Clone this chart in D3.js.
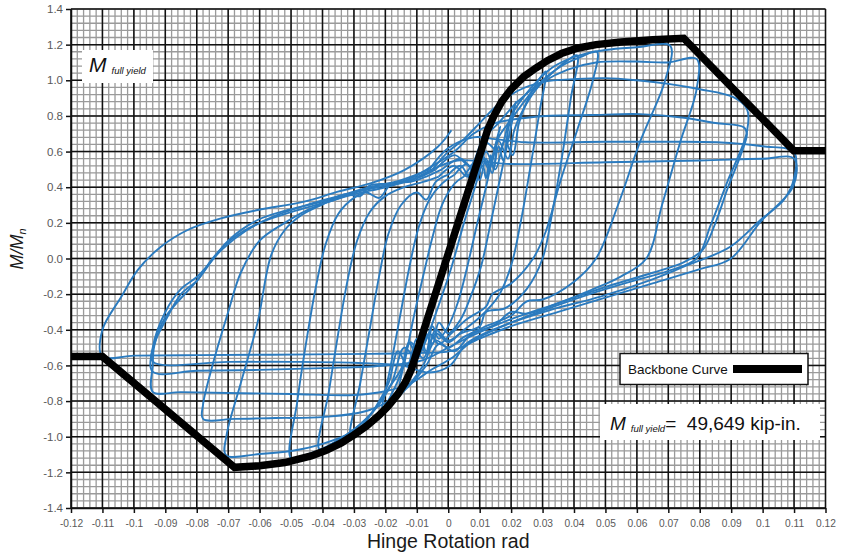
<!DOCTYPE html>
<html><head><meta charset="utf-8">
<script src="https://cdn.jsdelivr.net/npm/d3@7"></script>
<style>body{margin:0;background:#fff}svg{display:block}</style>
</head><body>
<svg id="chart" width="841" height="557"></svg>
<script>
// ---------- data ----------
const xTickLabels = ["-0.12","-0.11","-0.1","-0.09","-0.08","-0.07","-0.06","-0.05","-0.04","-0.03","-0.02","-0.01","0","0.01","0.02","0.03","0.04","0.05","0.06","0.07","0.08","0.09","0.1","0.11","0.12"];
const yTickLabels = ["1.4","1.2","1.0","0.8","0.6","0.4","0.2","0.0","-0.2","-0.4","-0.6","-0.8","-1.0","-1.2","-1.4"];
const xTitle = "Hinge Rotation rad";
const legendLabel = "Backbone Curve";
const fullYieldValue = "49,649 kip-in.";

// backbone curve [rotation, M/Mn]
const backbone = [[-0.12,-0.55],[-0.11,-0.55],[-0.068,-1.172],[-0.06,-1.163],[-0.052,-1.145],[-0.0436,-1.108],[-0.039,-1.078],[-0.034,-1.035],[-0.03,-0.99],[-0.026,-0.94],[-0.022,-0.88],[-0.0192,-0.83],[-0.016,-0.76],[-0.0135,-0.69],[-0.0118,-0.625],[0.0106,0.614],[0.0125,0.72],[0.0145,0.8],[0.017,0.88],[0.02,0.95],[0.024,1.02],[0.028,1.07],[0.0315,1.11],[0.036,1.15],[0.041,1.18],[0.047,1.2],[0.055,1.215],[0.065,1.228],[0.0749,1.236],[0.1099,0.605],[0.12,0.605]];

// hysteresis cycles [rotation, M/Mn]
const cycle1 = [[0,0],[0.003,0.17],[0.006,0.33],[0.008,0.42],[0.0105,0.53],[0.009,0.45],[0.011,0.55],[0.0085,0.4],[0.005,0.2],[0.001,-0.05],[-0.003,-0.26],[-0.006,-0.41],[-0.0085,-0.52],[-0.007,-0.44],[-0.0095,-0.56],[-0.0065,-0.38],[-0.003,-0.15],[0.0,0.05],[0.003,0.22]];
const cycle2 = [[0.003,0.22],[0.006,0.38],[0.009,0.47],[0.011,0.52],[0.012,0.45],[0.0135,0.58],[0.0145,0.5],[0.0155,0.66],[0.0165,0.74],[0.0145,0.6],[0.012,0.4],[0.009,0.18],[0.006,-0.05],[0.003,-0.25],[0.0,-0.38],[-0.003,-0.45],[-0.005,-0.38],[-0.007,-0.52],[-0.009,-0.44],[-0.011,-0.58],[-0.013,-0.65],[-0.0155,-0.72],[-0.0135,-0.55],[-0.011,-0.33],[-0.008,-0.1],[-0.005,0.12],[-0.002,0.3],[0.002,0.42],[0.005,0.46]];
const cycle3 = [[0.005,0.46],[0.008,0.52],[0.01,0.44],[0.012,0.56],[0.014,0.48],[0.016,0.63],[0.0175,0.55],[0.019,0.72],[0.0205,0.82],[0.0215,0.88],[0.0195,0.7],[0.0165,0.45],[0.0135,0.2],[0.0105,-0.04],[0.007,-0.22],[0.004,-0.34],[0.0,-0.42],[-0.003,-0.36],[-0.005,-0.48],[-0.008,-0.4],[-0.01,-0.55],[-0.0125,-0.47],[-0.015,-0.64],[-0.018,-0.76],[-0.021,-0.85],[-0.0185,-0.62],[-0.0155,-0.34],[-0.0125,-0.06],[-0.0095,0.17],[-0.006,0.33],[-0.002,0.42],[0.002,0.47]];
const cycle4 = [[0.002,0.47],[0.006,0.53],[0.009,0.45],[0.012,0.6],[0.015,0.5],[0.018,0.66],[0.0205,0.58],[0.0225,0.76],[0.025,0.88],[0.028,0.98],[0.031,1.05],[0.029,0.82],[0.026,0.5],[0.023,0.2],[0.02,-0.04],[0.016,-0.21],[0.01,-0.33],[0.005,-0.4],[0.0,-0.46],[-0.004,-0.4],[-0.007,-0.53],[-0.01,-0.45],[-0.013,-0.6],[-0.016,-0.52],[-0.019,-0.7],[-0.023,-0.83],[-0.027,-0.93],[-0.031,-0.99],[-0.028,-0.7],[-0.025,-0.4],[-0.022,-0.1],[-0.019,0.14],[-0.015,0.3],[-0.01,0.37],[-0.007,0.33],[-0.004,0.43],[0.0,0.47]];
const cycle5 = [[0.0,0.47],[0.004,0.52],[0.007,0.45],[0.01,0.6],[0.013,0.5],[0.016,0.66],[0.019,0.56],[0.021,0.72],[0.024,0.84],[0.028,0.95],[0.033,1.04],[0.037,1.1],[0.041,1.14],[0.039,0.9],[0.036,0.55],[0.033,0.25],[0.03,0.0],[0.025,-0.17],[0.018,-0.28],[0.012,-0.3],[0.01,-0.38],[0.004,-0.42],[0.0,-0.47],[-0.004,-0.42],[-0.008,-0.56],[-0.012,-0.47],[-0.015,-0.62],[-0.019,-0.73],[-0.024,-0.86],[-0.03,-0.96],[-0.036,-1.03],[-0.041,-1.07],[-0.038,-0.75],[-0.035,-0.42],[-0.032,-0.12],[-0.029,0.1],[-0.025,0.26],[-0.02,0.35],[-0.014,0.4],[-0.008,0.43],[-0.003,0.46]];
const cycle6 = [[-0.003,0.46],[0.002,0.52],[0.006,0.46],[0.01,0.6],[0.013,0.52],[0.016,0.68],[0.02,0.78],[0.025,0.9],[0.03,1.0],[0.036,1.08],[0.042,1.13],[0.0473,1.16],[0.046,1.0],[0.041,0.72],[0.0356,0.43],[0.031,0.15],[0.027,0.0],[0.02,-0.14],[0.014,-0.2],[0.012,-0.27],[0.006,-0.34],[0.001,-0.42],[-0.003,-0.48],[-0.006,-0.42],[-0.01,-0.56],[-0.014,-0.5],[-0.018,-0.7],[-0.023,-0.84],[-0.03,-0.96],[-0.038,-1.05],[-0.045,-1.1],[-0.05,-1.12],[-0.048,-0.8],[-0.045,-0.45],[-0.042,-0.15],[-0.039,0.08],[-0.035,0.25],[-0.03,0.34],[-0.026,0.37],[-0.022,0.34],[-0.018,0.42],[-0.012,0.43],[-0.007,0.46],[-0.002,0.5]];
const cycle7 = [[-0.002,0.5],[0.004,0.56],[0.008,0.5],[0.012,0.65],[0.016,0.6],[0.02,0.8],[0.026,0.95],[0.033,1.07],[0.04,1.13],[0.05,1.17],[0.06,1.185],[0.0706,1.194],[0.069,1.0],[0.061,0.654],[0.054,0.3],[0.047,0.0],[0.04,-0.13],[0.03,-0.23],[0.025,-0.24],[0.02,-0.32],[0.012,-0.38],[0.005,-0.44],[0.0,-0.5],[-0.004,-0.46],[-0.008,-0.6],[-0.013,-0.72],[-0.02,-0.85],[-0.03,-0.97],[-0.04,-1.04],[-0.05,-1.08],[-0.06,-1.097],[-0.0707,-1.103],[-0.0705,-0.99],[-0.066,-0.7],[-0.0606,-0.355],[-0.0563,0.02],[-0.052,0.16],[-0.047,0.24],[-0.0404,0.3],[-0.033,0.36],[-0.028,0.35],[-0.025,0.41],[-0.018,0.42],[-0.01,0.45],[-0.004,0.5]];
const cycle8 = [[-0.004,0.5],[0.002,0.58],[0.007,0.52],[0.011,0.67],[0.016,0.76],[0.022,0.88],[0.03,0.99],[0.038,1.06],[0.047,1.1],[0.06,1.105],[0.07,1.1],[0.079,1.12],[0.079,0.95],[0.0738,0.654],[0.068,0.3],[0.063,0.0],[0.055,-0.1],[0.045,-0.18],[0.035,-0.25],[0.025,-0.31],[0.02,-0.3],[0.015,-0.37],[0.007,-0.43],[0.002,-0.52],[-0.003,-0.48],[-0.007,-0.6],[-0.014,-0.74],[-0.025,-0.85],[-0.04,-0.89],[-0.055,-0.895],[-0.068,-0.9],[-0.078,-0.9],[-0.078,-0.82],[-0.075,-0.6],[-0.07,-0.3],[-0.066,-0.08],[-0.06,0.1],[-0.052,0.2],[-0.045,0.27],[-0.036,0.33],[-0.028,0.38],[-0.02,0.41],[-0.012,0.44],[-0.005,0.5]];
const cycle9 = [[-0.005,0.5],[0.0,0.6],[0.005,0.67],[0.01,0.76],[0.015,0.85],[0.022,0.94],[0.03,0.99],[0.041,1.007],[0.05,1.012],[0.06,1.0],[0.07,0.98],[0.08,0.95],[0.0907,0.905],[0.095,0.84],[0.095,0.71],[0.0887,0.427],[0.0834,0.184],[0.079,0.0],[0.07,-0.07],[0.058,-0.13],[0.045,-0.2],[0.032,-0.28],[0.02,-0.36],[0.008,-0.46],[0.001,-0.56],[-0.005,-0.62],[-0.012,-0.7],[-0.02,-0.745],[-0.03,-0.766],[-0.05,-0.76],[-0.07,-0.755],[-0.085,-0.75],[-0.094,-0.748],[-0.094,-0.6],[-0.0935,-0.49],[-0.09,-0.33],[-0.0797,-0.12],[-0.07,0.1],[-0.0606,0.216],[-0.051,0.272],[-0.04,0.32],[-0.03,0.37],[-0.02,0.41],[-0.012,0.45],[-0.005,0.52]];
const cycle10 = [[-0.005,0.52],[0.002,0.6],[0.008,0.7],[0.015,0.76],[0.025,0.79],[0.0324,0.801],[0.045,0.805],[0.061,0.81],[0.075,0.79],[0.085,0.76],[0.094,0.736],[0.095,0.7],[0.093,0.58],[0.089,0.4],[0.085,0.2],[0.081,0.05],[0.075,-0.02],[0.065,-0.08],[0.05,-0.16],[0.035,-0.25],[0.02,-0.34],[0.008,-0.43],[0.0,-0.5],[-0.008,-0.57],[-0.02,-0.6],[-0.04,-0.615],[-0.06,-0.625],[-0.08,-0.63],[-0.094,-0.635],[-0.094,-0.5],[-0.09,-0.3],[-0.085,-0.17],[-0.0797,-0.1],[-0.072,0.05],[-0.064,0.16],[-0.055,0.24],[-0.045,0.3],[-0.035,0.35],[-0.025,0.4],[-0.015,0.44],[-0.006,0.5]];
const cycle11 = [[-0.006,0.5],[0.0,0.62],[0.008,0.68],[0.015,0.67],[0.0245,0.652],[0.05,0.655],[0.07,0.655],[0.0855,0.652],[0.1,0.63],[0.11,0.596],[0.11,0.45],[0.1067,0.328],[0.0993,0.216],[0.0897,0.066],[0.0749,-0.046],[0.0643,-0.121],[0.0484,-0.214],[0.0324,-0.289],[0.0165,-0.383],[0.0059,-0.476],[0.0006,-0.6],[-0.006,-0.64],[-0.015,-0.6],[-0.03,-0.585],[-0.05,-0.58],[-0.07,-0.58],[-0.094,-0.579],[-0.0935,-0.48],[-0.09,-0.35],[-0.085,-0.2],[-0.0797,-0.12],[-0.075,0.0],[-0.068,0.12],[-0.06,0.2],[-0.05,0.26],[-0.04,0.31],[-0.03,0.36],[-0.02,0.4],[-0.012,0.44],[-0.005,0.5]];
const cycle12 = [[-0.005,0.5],[0.003,0.55],[0.0197,0.53],[0.05,0.54],[0.08,0.55],[0.1,0.56],[0.11,0.56],[0.1098,0.408],[0.0993,0.205],[0.0897,-0.003],[0.08,-0.06],[0.065,-0.14],[0.05,-0.22],[0.035,-0.3],[0.02,-0.38],[0.01,-0.45],[0.0006,-0.52],[-0.01,-0.53],[-0.0245,-0.535],[-0.056,-0.54],[-0.08,-0.542],[-0.1,-0.545],[-0.11,-0.55],[-0.11,-0.40],[-0.104,-0.215],[-0.0988,-0.065],[-0.0914,0.066],[-0.0829,0.16],[-0.0723,0.225],[-0.0606,0.272],[-0.0458,0.319],[-0.0351,0.375],[-0.0245,0.423],[-0.014,0.496],[-0.0033,0.627],[0.001,0.72]];
const hysteresisCycles = [cycle1,cycle2,cycle3,cycle4,cycle5,cycle6,cycle7,cycle8,cycle9,cycle10,cycle11,cycle12];

// ---------- chart ----------
const svg = d3.select("#chart");
const x = d3.scaleLinear().domain([-0.12, 0.12]).range([71, 825.5]);
const y = d3.scaleLinear().domain([-1.4, 1.4]).range([508, 9]);
const xTickValues = xTickLabels.map(Number);
const yTickValues = yTickLabels.map(Number);

svg.append("rect").attr("width", 841).attr("height", 557).attr("fill", "#fff");

// minor grid
const xMinor = d3.range(-60, 61).map(i => i * 0.002);
const yMinor = d3.range(-35, 36).map(i => i * 0.04);
const grid = svg.append("g");
grid.selectAll("line.mx").data(xMinor).join("line").attr("class","mx")
  .attr("x1", d => x(d)).attr("x2", d => x(d)).attr("y1", y(-1.4)).attr("y2", y(1.4))
  .attr("stroke", "#9a9a9a").attr("stroke-width", 1.3);
grid.selectAll("line.my").data(yMinor).join("line").attr("class","my")
  .attr("y1", d => y(d)).attr("y2", d => y(d)).attr("x1", x(-0.12)).attr("x2", x(0.12))
  .attr("stroke", "#9a9a9a").attr("stroke-width", 1.3);
// major grid
grid.selectAll("line.Mx").data(xTickValues).join("line").attr("class","Mx")
  .attr("x1", d => x(d)).attr("x2", d => x(d)).attr("y1", y(-1.4)).attr("y2", y(1.4))
  .attr("stroke", "#111").attr("stroke-width", 1.5);
grid.selectAll("line.My").data(yTickValues).join("line").attr("class","My")
  .attr("y1", d => y(d)).attr("y2", d => y(d)).attr("x1", x(-0.12)).attr("x2", x(0.12))
  .attr("stroke", "#111").attr("stroke-width", 1.5);

// axes
const yAxis = svg.append("g").attr("transform", `translate(${x(-0.12)},0)`)
  .call(d3.axisLeft(y).tickValues(yTickValues).tickFormat((d, i) => yTickLabels[i]).tickSize(5).tickSizeOuter(0).tickPadding(3));
const xAxis = svg.append("g").attr("transform", `translate(0,${y(-1.4)})`)
  .call(d3.axisBottom(x).tickValues(xTickValues).tickFormat((d, i) => xTickLabels[i]).tickSize(5).tickSizeOuter(0).tickPadding(7));
[yAxis, xAxis].forEach(a => {
  a.select(".domain").attr("stroke", "#111").attr("stroke-width", 1.5);
  a.selectAll(".tick line").attr("stroke", "#111").attr("stroke-width", 1.5);
  a.selectAll("text").attr("fill", "#595959").attr("font-family", "Liberation Sans, Arial, sans-serif");
});
yAxis.selectAll("text").attr("font-size", 11.5);
xAxis.selectAll("text").attr("font-size", 10.2);

// hysteresis loops
const line = d3.line().x(d => x(d[0])).y(d => y(d[1])).curve(d3.curveCatmullRom.alpha(0.5));
svg.append("g").selectAll("path").data(hysteresisCycles).join("path")
  .attr("d", line).attr("fill", "none").attr("stroke", "#2b7bbf")
  .attr("stroke-width", 1.9).attr("stroke-linejoin", "round");

// backbone
svg.append("path").datum(backbone)
  .attr("d", d3.line().x(d => x(d[0])).y(d => y(d[1])))
  .attr("fill", "none").attr("stroke", "#000").attr("stroke-width", 7.5).attr("stroke-linejoin", "miter");

// axis titles
svg.append("text").attr("x", (x(-0.12) + x(0.12)) / 2).attr("y", 548)
  .attr("text-anchor", "middle").attr("font-family", "Liberation Sans, Arial, sans-serif")
  .attr("font-size", 19.5).attr("fill", "#1a1a1a").text(xTitle);
const yt = svg.append("text").attr("transform", "translate(23,249) rotate(-90)")
  .attr("text-anchor", "middle").attr("font-family", "Liberation Sans, Arial, sans-serif")
  .attr("font-size", 18).attr("font-style", "italic").attr("fill", "#1a1a1a");
yt.append("tspan").text("M/M");
yt.append("tspan").attr("font-size", 11).attr("dy", 3).text("n");

// top-left label box
svg.append("rect").attr("x", 82).attr("y", 50).attr("width", 71).attr("height", 33).attr("fill", "#fff");
const tl = svg.append("text").attr("x", 89).attr("y", 72)
  .attr("font-family", "Liberation Sans, Arial, sans-serif").attr("font-style", "italic").attr("fill", "#111");
tl.append("tspan").attr("font-size", 21).text("M");
tl.append("tspan").attr("font-size", 9.5).attr("dx", 5).attr("dy", 2).text("full yield");

// legend
svg.append("rect").attr("x", 620).attr("y", 353.5).attr("width", 188).attr("height", 31)
  .attr("fill", "#fff").attr("stroke", "#111").attr("stroke-width", 1.5);
svg.append("text").attr("x", 628).attr("y", 374).attr("font-family", "Liberation Sans, Arial, sans-serif")
  .attr("font-size", 13.5).attr("fill", "#111").text(legendLabel);
svg.append("line").attr("x1", 733).attr("x2", 802).attr("y1", 369).attr("y2", 369)
  .attr("stroke", "#000").attr("stroke-width", 8);

// bottom-right value box
svg.append("rect").attr("x", 600).attr("y", 404).attr("width", 220).attr("height", 36).attr("fill", "#fff");
const br = svg.append("text").attr("x", 610).attr("y", 430)
  .attr("font-family", "Liberation Sans, Arial, sans-serif").attr("fill", "#111");
br.append("tspan").attr("font-size", 19).attr("font-style", "italic").text("M");
br.append("tspan").attr("font-size", 9.5).attr("font-style", "italic").attr("dx", 5).attr("dy", 2).text("full yield");
br.append("tspan").attr("font-size", 19).attr("dy", -2).text("=\u00a0\u00a0" + fullYieldValue);
</script>
</body></html>
